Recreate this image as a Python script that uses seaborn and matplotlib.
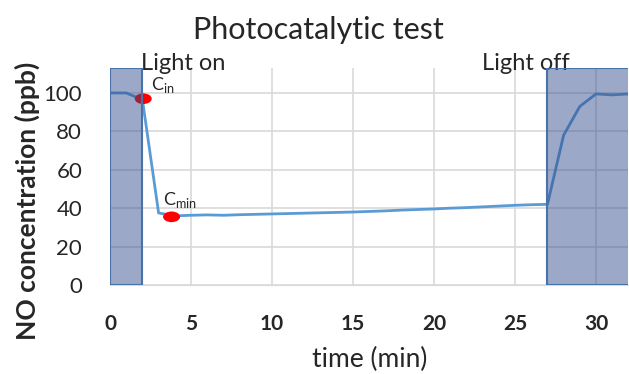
import matplotlib
matplotlib.use("Agg")
import matplotlib.pyplot as plt
import seaborn as sns
import pandas as pd
from matplotlib.path import Path
from matplotlib.transforms import Affine2D

# ---- data ----
time_min = list(range(0, 33))
no_ppb = [100, 100, 96.5, 37.5, 36.0, 36.3, 36.5, 36.3, 36.6, 36.8, 37.0,
          37.2, 37.4, 37.6, 37.8, 38.0, 38.3, 38.6, 39.0, 39.3, 39.6,
          40.0, 40.3, 40.7, 41.1, 41.5, 41.8, 42.0, 78.0, 93.0, 99.5, 99.0, 99.5]
dark_periods = [(0, 2), (27, 32.5)]
marker_x = [2.05, 3.8]
marker_y = [97.0, 35.5]
x_ticks = [0, 5, 10, 15, 20, 25, 30]
y_ticks = [0, 20, 40, 60, 80, 100]

df = pd.DataFrame({"time": time_min, "NO": no_ppb})
mk = pd.DataFrame({"x": marker_x, "y": marker_y})

sns.set_style("white")
plt.rcParams["font.family"] = ["Lato", "DejaVu Sans"]
plt.rcParams["mathtext.fontset"] = "custom"
plt.rcParams["mathtext.rm"] = "Lato"

fig = plt.figure(figsize=(6.29, 3.74), dpi=100)
ax = fig.add_axes([0.1749, 0.2380, 0.8242, 0.5802])

sns.lineplot(data=df, x="time", y="NO", ax=ax, color="#5b9bd5", linewidth=2, zorder=3)

ell = Path.unit_circle().transformed(Affine2D().scale(1.6, 1.0))
sns.scatterplot(data=mk, x="x", y="y", ax=ax, marker=ell, s=150, color="#ff0000",
                edgecolor="none", zorder=4)

for a, b in dark_periods:
    ax.axvspan(a, b, ymin=0, ymax=1, facecolor="#2f4a8a", alpha=0.48,
               edgecolor="none", zorder=5)
    ax.axvspan(a, b, ymin=0, ymax=1, facecolor="none",
               edgecolor="#4a72aa", linewidth=1.5, zorder=6)

ax.set_xlim(0, 32)
ax.set_ylim(0, 113)
ax.set_xticks(x_ticks)
ax.set_yticks(y_ticks)
ax.grid(True, color="#d9d9d9", linewidth=1.2, zorder=0)
ax.set_axisbelow(True)
for s in ["top", "right", "left"]:
    ax.spines[s].set_visible(False)
ax.spines["bottom"].set_color("#d9d9d9")
ax.tick_params(axis="both", length=0)
ax.tick_params(axis="x", pad=21, labelsize=15)
ax.tick_params(axis="y", pad=20, labelsize=16)
for lab in ax.get_xticklabels():
    lab.set_fontweight("bold")

ax.set_xlabel("time (min)", fontsize=19, labelpad=9)
ax.set_ylabel("NO concentration (ppb)", fontsize=19, fontweight="bold")
ax.yaxis.set_label_coords(-0.135, 0.387)
fig.text(0.506, 1 - 39 / 374, "Photocatalytic test", fontsize=22,
         ha="center", va="baseline")

ax.text(1.9, 112, "Light on", fontsize=17, ha="left", va="baseline", clip_on=False)
ax.text(22.95, 112, "Light off", fontsize=17, ha="left", va="baseline", clip_on=False)

ax.text(2.5, 99, r"C$_{\mathregular{in}}$", fontsize=13, ha="left", va="bottom")
ax.text(3.3, 39, r"C$_{\mathregular{min}}$", fontsize=13, ha="left", va="bottom")

fig.savefig("out.png", dpi=100)
